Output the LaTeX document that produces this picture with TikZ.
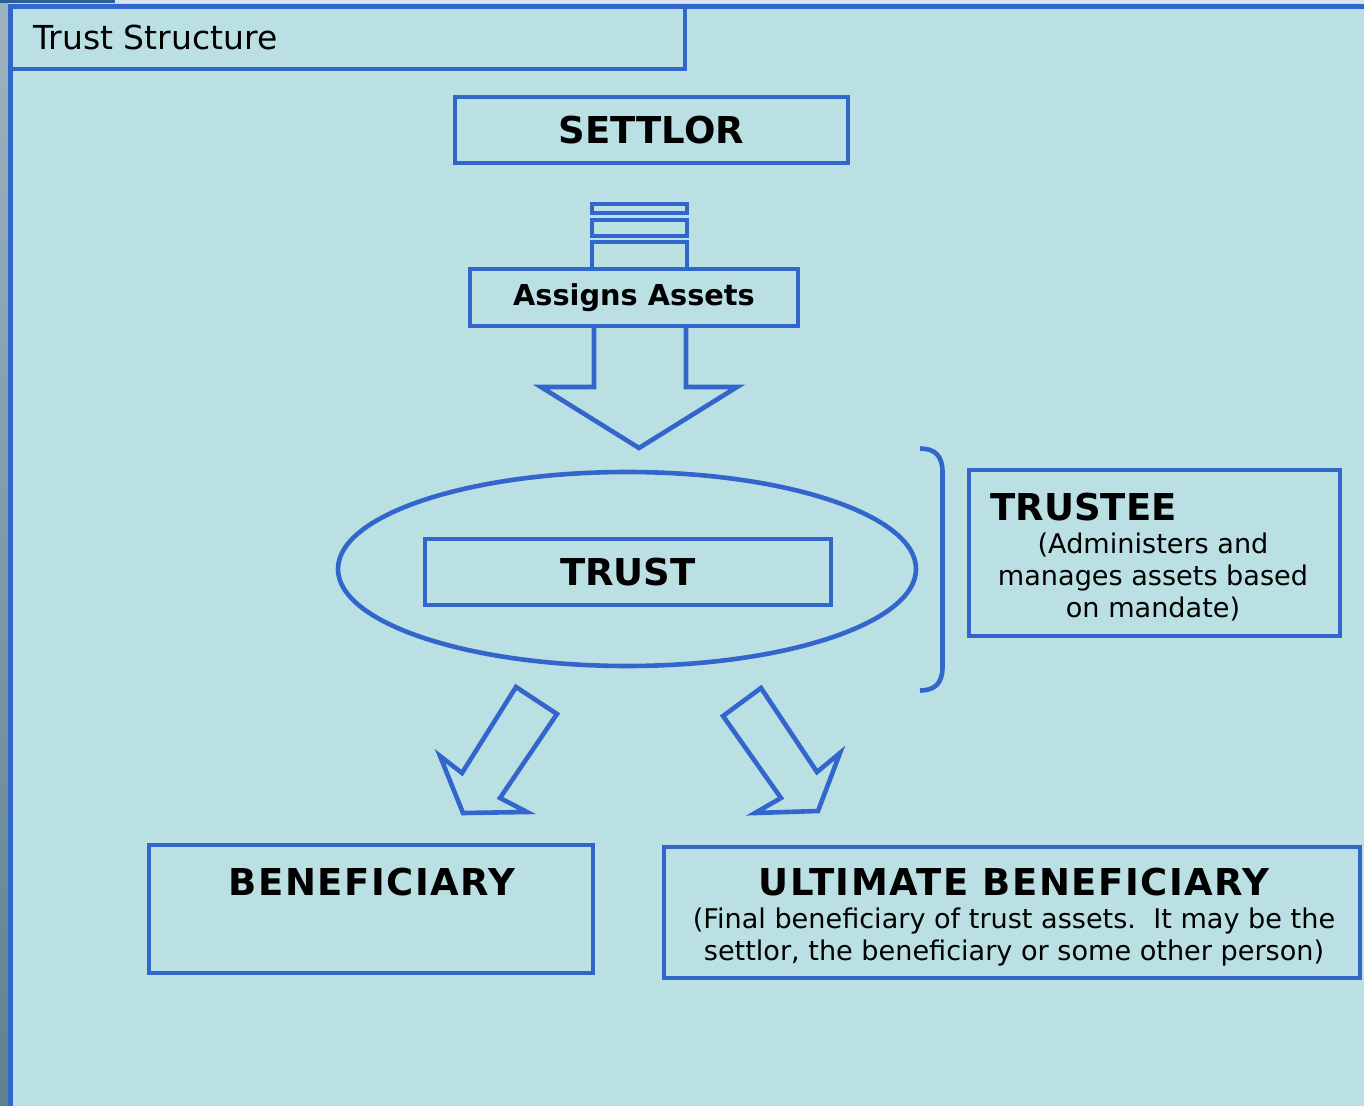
\documentclass[tikz,border=0pt]{standalone}
\usepackage{fontspec}
\setmainfont{DejaVu Sans}
\usepackage{xcolor}
\definecolor{colSea}{HTML}{BAE0E3}
\definecolor{colLine}{HTML}{3366CC}
\definecolor{colEdgeTop}{HTML}{9DB3BF}
\definecolor{colEdgeBot}{HTML}{5E8291}
\definecolor{colStrip}{HTML}{D9E3EC}
\definecolor{colTab}{HTML}{2C5F94}
\usetikzlibrary{positioning, shapes.geometric}

\begin{document}
\begin{tikzpicture}[x=0.5pt, y=-0.5pt,
    box/.style={draw=colLine, line width=2.3pt, inner sep=0pt},
    heading/.style={font=\fontsize{18.5}{22}\selectfont\bfseries, inner sep=0pt},
    spaced/.style={font=\fontsize{18.5}{22}\selectfont\bfseries\addfontfeatures{LetterSpace=4}},
    note/.style={font=\fontsize{13.55}{16}\selectfont, inner sep=0pt, align=center},
    blockarrow/.style={draw=colLine, line width=2.3pt, line join=miter, miter limit=20}]
    % Page
    \useasboundingbox (0,0) rectangle (1364,1106);
    \fill[colSea] (0,0) rectangle (1364,1106);
    \shade[top color=colEdgeTop, bottom color=colEdgeBot] (0,0) rectangle (8,1106);
    \fill[colStrip] (0,0) rectangle (1364,3);
    \fill[colTab] (0,0) rectangle (115,3);
    \draw[colLine, line width=2.5pt] (10,1106) -- (10,6.5) -- (1364,6.5);
    % Title tab
    \node[box, minimum width=337.5pt, minimum height=31.25pt] (tab) at (347.5,37.75) {};
    \node[anchor=base west, inner sep=0pt, font=\fontsize{16.5}{19}\selectfont] (tabtext) at (33,50) {Trust Structure};
    % Settlor
    \node[box, heading, minimum width=196.5pt, minimum height=33pt] (settlor) at (651.5,130) {SETTLOR};
    % Stack of assets
    \node[box, minimum width=47.5pt, minimum height=4.5pt] (stackA) at (639.5,208.5) {};
    \node[box, minimum width=47.5pt, minimum height=8pt] (stackB) at (639.5,228) {};
    \node[box, font=\fontsize{14.4}{17}\selectfont\bfseries,
          minimum width=164pt, minimum height=28.5pt] (assigns) at (634,297.5) {Assigns Assets};
    \draw[colLine, line width=2.3pt] (592,269) -- (592,242) -- (687,242) -- (687,269);
    % Down arrow into the trust
    \draw[blockarrow] (594,326) -- (594,387) -- (541,387) -- (639,448)
          -- (737,387) -- (686,387) -- (686,326);
    % Trust
    \node[ellipse, draw=colLine, line width=2.3pt, inner sep=0pt,
          minimum width=289pt, minimum height=97pt] (trustring) at (627,569) {};
    \node[box, heading, minimum width=203pt, minimum height=33pt] (trust) at (628,572) {TRUST};
    % Trustee bracket
    \draw[colLine, line width=2.3pt] (920,448.5) .. controls (935,448.5) and (942.5,456) .. (942.5,472)
          -- (942.5,667) .. controls (942.5,683) and (935,690.5) .. (920,690.5);
    \node[box, minimum width=185.5pt, minimum height=83pt] (trustee) at (1154.5,553) {};
    \node[heading, anchor=base west] (trusteehead) at (990,520) {TRUSTEE};
    \node[note, anchor=base] (trusteenote) at (1153,617)
          {(Administers and\\manages assets based\\on mandate)};
    % Arrows out of the trust
    \draw[blockarrow] (516,687) -- (557,714) -- (500,798) -- (527,812) -- (463,813)
          -- (440,756) -- (462,773) -- cycle;
    \draw[blockarrow] (761,688) -- (723,716) -- (781,798) -- (755,813) -- (818,811)
          -- (840,753) -- (817,772) -- cycle;
    % Beneficiaries
    \node[box, minimum width=222pt, minimum height=64pt] (benef) at (371,909) {};
    \node[heading, spaced, anchor=base] (benefhead) at (372,895) {BENEFICIARY};
    \node[box, minimum width=348pt, minimum height=65.5pt] (ultimate) at (1012,912.5) {};
    \node[heading, spaced, anchor=base] (ultimatehead) at (1014,895) {ULTIMATE BENEFICIARY};
    \node[note, anchor=base] (ultimatenote) at (1014,960)
          {(Final beneficiary of trust assets.\ \ It may be the\\settlor, the beneficiary or some other person)};
\end{tikzpicture}
\end{document}
